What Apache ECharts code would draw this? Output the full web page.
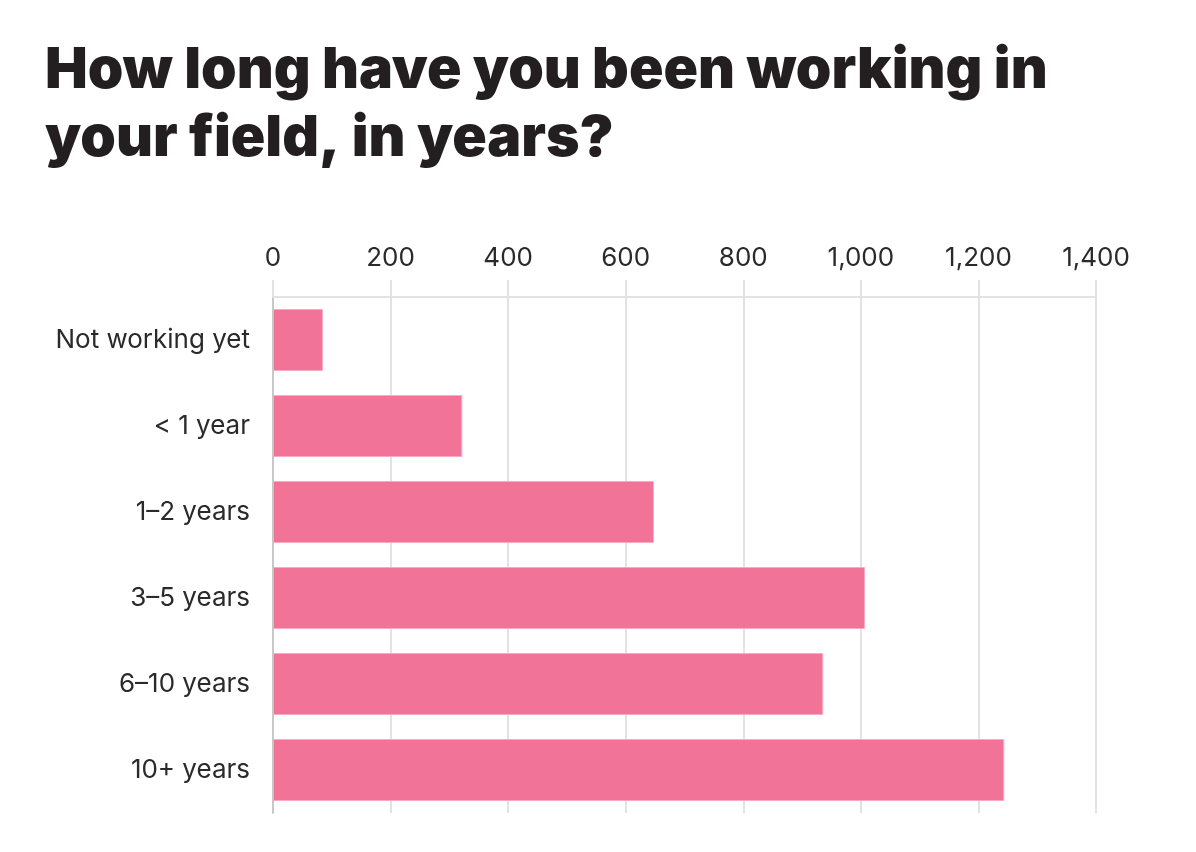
<!DOCTYPE html>
<html><head><meta charset="utf-8">
<script src="https://cdn.jsdelivr.net/npm/echarts@6/dist/echarts.min.js"></script>
<style>html,body{margin:0;padding:0;background:#fff}#c{width:1196px;height:852px}</style>
</head><body><div id="c"></div>
<script>
const categories = ["Not working yet", "< 1 year", "1–2 years", "3–5 years", "6–10 years", "10+ years"];
const values = [85, 322, 648, 1007, 936, 1244];
const titleText = "How long have you been working in\nyour field, in years?";

const chart = echarts.init(document.getElementById('c'), null, {renderer: 'canvas'});
chart.setOption({
  backgroundColor: '#fff',
  animation: false,
  title: {
    text: titleText,
    left: 40, top: 32,
    textStyle: {fontFamily: 'Inter', fontWeight: 900, fontSize: 57, lineHeight: 68, color: '#231f20'}
  },
  grid: {left: 273, right: 100, top: 297, bottom: 39},
  xAxis: {
    type: 'value', position: 'top', min: 0, max: 1400, interval: 200,
    axisLine: {show: true, lineStyle: {color: '#e2e2e2', width: 2}},
    axisTick: {show: true, inside: false, length: 17, lineStyle: {color: '#e2e2e2', width: 2}},
    splitLine: {show: true, lineStyle: {color: '#e2e2e2', width: 2}},
    axisLabel: {
      margin: 26, fontFamily: 'Inter', fontSize: 26, color: '#2a2a2a',
      formatter: v => v.toLocaleString('en-US')
    }
  },
  yAxis: {
    type: 'category', data: categories, inverse: true,
    axisLine: {show: true, lineStyle: {color: '#c8c8c8', width: 2}},
    axisTick: {show: false},
    axisLabel: {margin: 23, fontFamily: 'Inter', fontSize: 26, color: '#2a2a2a'}
  },
  series: [{
    type: 'bar', data: values, barWidth: 62,
    itemStyle: {color: '#f27398', borderColor: '#f9aac2', borderWidth: 1}
  }]
});
</script></body></html>
